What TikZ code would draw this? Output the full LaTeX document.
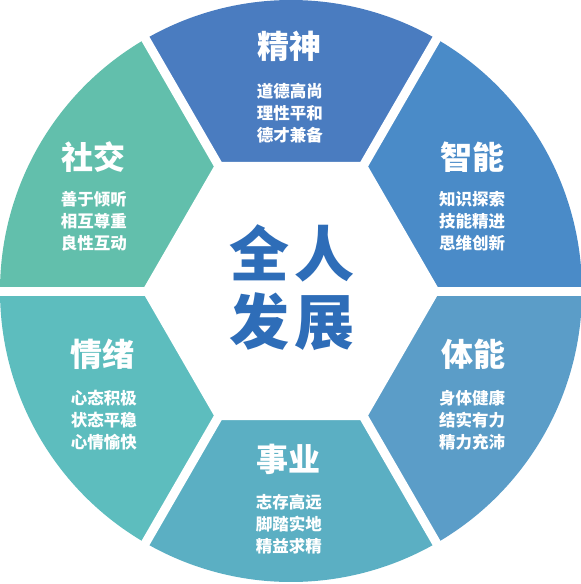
\documentclass[tikz,border=0pt]{standalone}
\usepackage{fontspec}
\newfontfamily\cjk{Noto Sans CJK SC}
\definecolor{cjingshen}{HTML}{4A7CC0}
\definecolor{czhineng}{HTML}{4A8BC8}
\definecolor{ctineng}{HTML}{5B9DC8}
\definecolor{cshiye}{HTML}{5BAFC3}
\definecolor{cqingxu}{HTML}{5DBDBE}
\definecolor{cshejiao}{HTML}{62BFAC}
\definecolor{ccenter}{HTML}{2E6DB8}
\tikzset{
  title/.style={text=white, font=\cjk\bfseries\fontsize{32}{32}\selectfont, inner sep=0pt},
  sub/.style={text=white, font=\cjk\bfseries\fontsize{16.5}{22}\selectfont, align=center, inner sep=0pt}
}
\begin{document}
\begin{tikzpicture}[x=1pt, y=1pt, line join=round]
\useasboundingbox (-291,-293) rectangle (290,291);

% 六个扇形
\foreach \a/\c in {60/cjingshen, 0/czhineng, -60/ctineng, -120/cshiye, 180/cqingxu, 120/cshejiao}
  \fill[\c] (0,0) -- (\a:291) arc[start angle=\a, end angle=\a+60, radius=291] -- cycle;

% 中间六边形与分隔线
\fill[white] (0:149) -- (60:149) -- (120:149) -- (180:149) -- (240:149) -- (300:149) -- cycle;
\foreach \a in {0,60,...,300}
  \draw[white, line width=9pt] (0,0) -- (\a:300);

% 中心文字
\node[text=ccenter, font=\cjk\bfseries\fontsize{60}{68}\selectfont, align=center, inner sep=0pt] (center) at (1,3) {全\hspace{5pt}人\\发\hspace{5pt}展};

% 精神
\node[title] (jingshen) at (-1,245) {精神};
\node[sub] (jingshensub) at (-1,178) {道德高尚\\理性平和\\德才兼备};

% 智能
\node[title] (zhineng) at (181,134) {智能};
\node[sub] (zhinengsub) at (181,70) {知识探索\\技能精进\\思维创新};

% 体能
\node[title] (tineng) at (182,-63) {体能};
\node[sub] (tinengsub) at (181,-129) {身体健康\\结实有力\\精力充沛};

% 事业
\node[title] (shiye) at (-2,-168) {事业};
\node[sub] (shiyesub) at (-2,-233) {志存高远\\脚踏实地\\精益求精};

% 情绪
\node[title] (qingxu) at (-188,-63) {情绪};
\node[sub] (qingxusub) at (-187,-129) {心态积极\\状态平稳\\心情愉快};

% 社交
\node[title] (shejiao) at (-197,134) {社交};
\node[sub] (shejiaosub) at (-197,70) {善于倾听\\相互尊重\\良性互动};
\end{tikzpicture}
\end{document}
